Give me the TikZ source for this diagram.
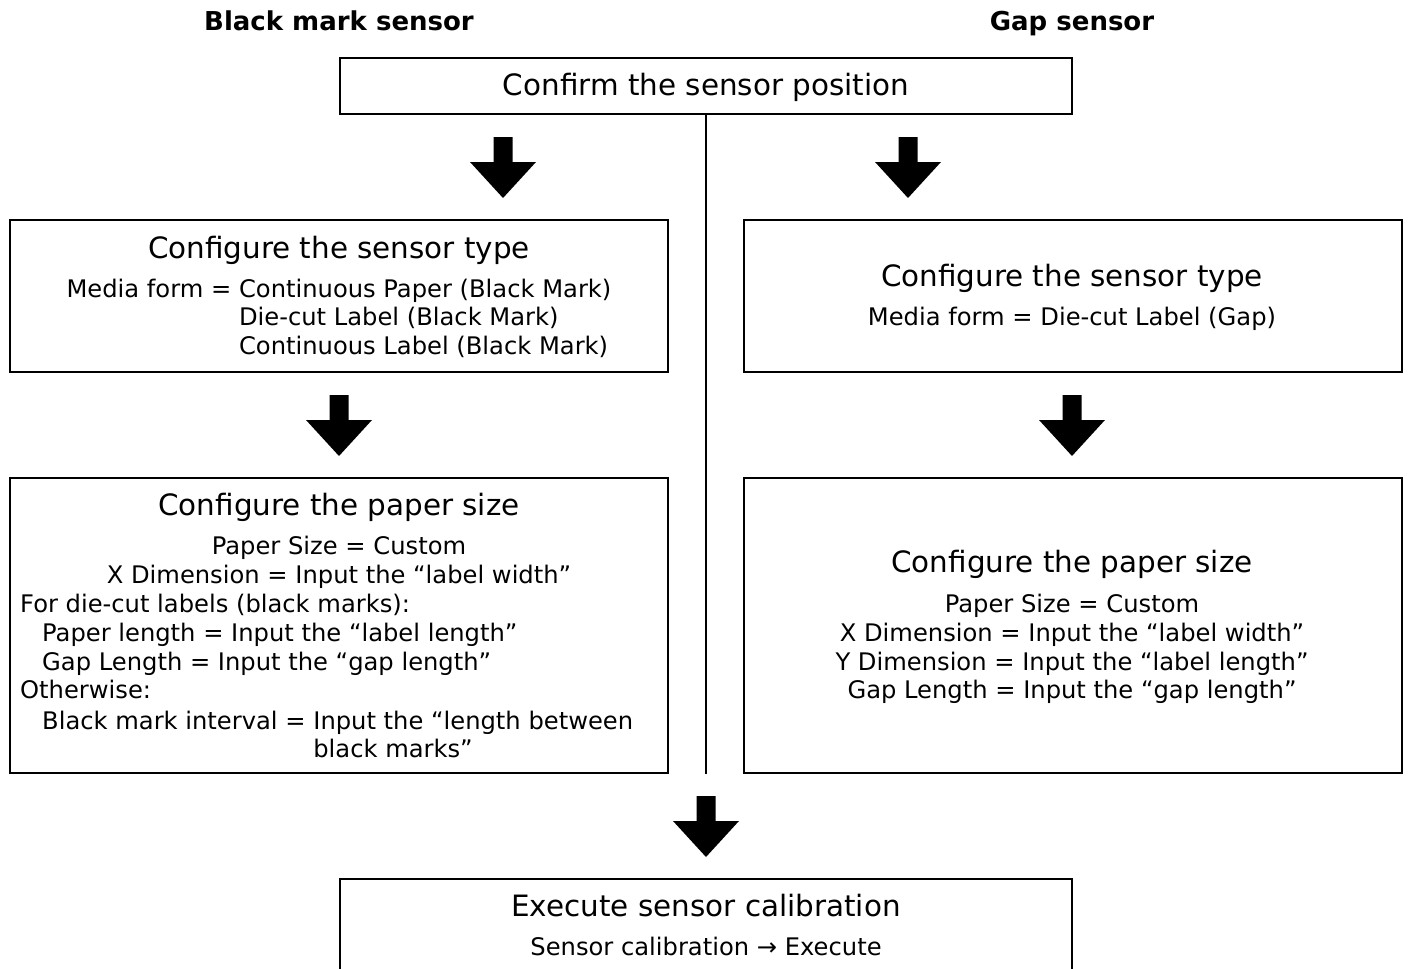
\documentclass[tikz,border=0pt]{standalone}
\usepackage{fontspec}
\setmainfont{DejaVu Sans}
\newcommand{\ttl}{\fontsize{29.4}{33}\selectfont}
\newcommand{\dtl}{\fontsize{24.2}{28.6}\selectfont}
\newcommand{\blockarrow}[2]{%
  \fill (#1-9.5,#2) -- (#1+9.5,#2) -- (#1+9.5,#2+25) -- (#1+33,#2+25) -- (#1,#2+61) -- (#1-33,#2+25) -- (#1-9.5,#2+25) -- cycle;}
\begin{document}
\begin{tikzpicture}[x=1pt,y=-1pt,
  box/.style={draw, line width=2pt, inner sep=0pt},
  txt/.style={inner sep=0pt, font=\dtl},
  ttlt/.style={inner sep=0pt, font=\ttl, anchor=mid},
  hdr/.style={inner sep=0pt, font=\fontsize{26}{30}\selectfont\bfseries, anchor=mid}]
\useasboundingbox (0,0) rectangle (1408,969);
% headers
\node[hdr] (hbm) at (339,28) {Black mark sensor};
\node[hdr] (hgs) at (1072,28) {Gap sensor};
% boxes
\node[box, minimum width=732pt, minimum height=56pt] (top) at (706,86) {};
\node[box, minimum width=658pt, minimum height=152pt] (lb1) at (339,296) {};
\node[box, minimum width=658pt, minimum height=152pt] (rb1) at (1073,296) {};
\node[box, minimum width=658pt, minimum height=295pt] (lb2) at (339,625.5) {};
\node[box, minimum width=658pt, minimum height=295pt] (rb2) at (1073,625.5) {};
\node[box, minimum width=732pt, minimum height=110pt] (bot) at (706,934) {};
% vertical line
\draw[line width=2pt] (top.south) -- (top.south |- lb2.south);
% block arrows
\blockarrow{503}{137}
\blockarrow{908}{137}
\blockarrow{339}{395}
\blockarrow{1072}{395}
\blockarrow{706}{796}
% texts
\node[ttlt] (t0) at (706,93) {Confirm the sensor position};
\node[ttlt] (t1) at (339,256) {Configure the sensor type};
\node[txt, anchor=north] (d1) at (339,277) {\begin{tabular}{@{}l@{}l@{}}Media form =\ \null & Continuous Paper (Black Mark)\\ & Die-cut Label (Black Mark)\\ & Continuous Label (Black Mark)\end{tabular}};
\node[ttlt] (t2) at (1072,284) {Configure the sensor type};
\node[txt, anchor=mid] (d2) at (1072,323) {Media form = Die-cut Label (Gap)};
\node[ttlt] (t3) at (339,513) {Configure the paper size};
\node[txt, anchor=mid] (l1) at (339,552) {Paper Size = Custom};
\node[txt, anchor=mid] (l2) at (339,581) {X Dimension = Input the “label width”};
\node[txt, anchor=mid west] (l3) at (20,610) {For die-cut labels (black marks):};
\node[txt, anchor=mid west] (l4) at (42,639) {Paper length = Input the “label length”};
\node[txt, anchor=mid west] (l5) at (42,668) {Gap Length = Input the “gap length”};
\node[txt, anchor=mid west] (l6) at (20,696) {Otherwise:};
\node[txt, anchor=north west] (l7) at (42,709) {\begin{tabular}{@{}l@{}l@{}}Black mark interval =\ \null & Input the “length between\\ & black marks”\end{tabular}};
\node[ttlt] (t4) at (1072,570) {Configure the paper size};
\node[txt, anchor=mid] (r1) at (1072,610) {Paper Size = Custom};
\node[txt, anchor=mid] (r2) at (1072,639) {X Dimension = Input the “label width”};
\node[txt, anchor=mid] (r3) at (1072,668) {Y Dimension = Input the “label length”};
\node[txt, anchor=mid] (r4) at (1072,696) {Gap Length = Input the “gap length”};
\node[ttlt] (t5) at (706,914) {Execute sensor calibration};
\node[txt, anchor=mid] (d5) at (706,953) {Sensor calibration → Execute};
\end{tikzpicture}
\end{document}
